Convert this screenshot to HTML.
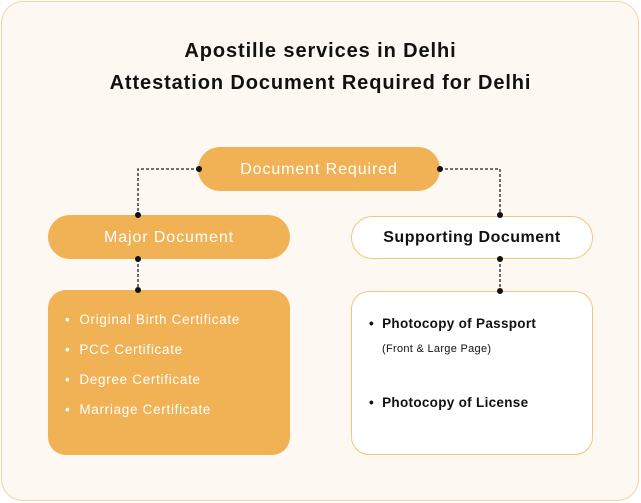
<!DOCTYPE html>
<html><head><style>
body{margin:0;width:641px;height:503px;background:#fff;font-family:"Liberation Sans",sans-serif;position:relative;overflow:hidden}
.a{position:absolute}
.outer{left:1px;top:1px;width:636px;height:498px;border:1px solid #f2d3a6;border-radius:22px;background:#fdf8f2}
.t{left:0;width:641px;text-align:center;font-size:20px;font-weight:bold;color:#111;letter-spacing:0.9px}
.pill{border-radius:22px;text-align:center;font-size:16px;line-height:46px;box-sizing:border-box;letter-spacing:0.9px}
.or{background:#f0b254;color:#fff}
.wh{background:#fff;border:1.5px solid #f3c57f;color:#111;font-weight:bold;letter-spacing:0.5px}
.box{border-radius:18px;box-sizing:border-box}
.li{font-size:13.5px;color:#fff;letter-spacing:0.7px;white-space:nowrap}
.ri{font-size:13.5px;color:#111;font-weight:bold;letter-spacing:0.3px;white-space:nowrap}
</style></head><body>
<div class="a outer"></div>
<div class="a t" style="top:40px">Apostille services in Delhi</div>
<div class="a t" style="top:72px">Attestation Document Required for Delhi</div>
<div class="a pill or" style="left:198px;top:147px;width:242px;height:44px">Document Required</div>
<div class="a pill or" style="left:48px;top:215px;width:242px;height:44px">Major Document</div>
<div class="a pill wh" style="left:351px;top:216px;width:242px;height:43px;line-height:42px">Supporting Document</div>
<div class="a box or" style="left:48px;top:290px;width:242px;height:165px"></div>
<div class="a box" style="left:351px;top:291px;width:242px;height:164px;background:#fff;border:1.5px solid #f3c57f"></div>
<svg class="a" style="left:0;top:0" width="641" height="503">
<g stroke="#222" stroke-width="1.3" stroke-dasharray="3,2" fill="none">
<path d="M199 169H138V215"/><path d="M440 169H500V215"/>
<path d="M138 259V290"/><path d="M500 259V291"/>
</g>
<g fill="#111">
<circle cx="199" cy="169" r="3"/><circle cx="440" cy="169" r="3"/>
<circle cx="138" cy="215" r="3"/><circle cx="500" cy="215" r="3"/>
<circle cx="138" cy="259" r="3"/><circle cx="500" cy="259" r="3"/>
<circle cx="138" cy="290" r="3"/><circle cx="500" cy="291" r="3"/>
</g>
</svg>
<div class="a li" style="left:65px;top:312px">•&nbsp;&nbsp;Original Birth Certificate</div>
<div class="a li" style="left:65px;top:342px">•&nbsp;&nbsp;PCC Certificate</div>
<div class="a li" style="left:65px;top:372px">•&nbsp;&nbsp;Degree Certificate</div>
<div class="a li" style="left:65px;top:402px">•&nbsp;&nbsp;Marriage Certificate</div>
<div class="a ri" style="left:369px;top:316px">•&nbsp;&nbsp;Photocopy of Passport</div>
<div class="a" style="left:382px;top:343px;font-size:11px;color:#111;letter-spacing:0.3px">(Front &amp; Large Page)</div>
<div class="a ri" style="left:369px;top:395px">•&nbsp;&nbsp;Photocopy of License</div>
</body></html>
